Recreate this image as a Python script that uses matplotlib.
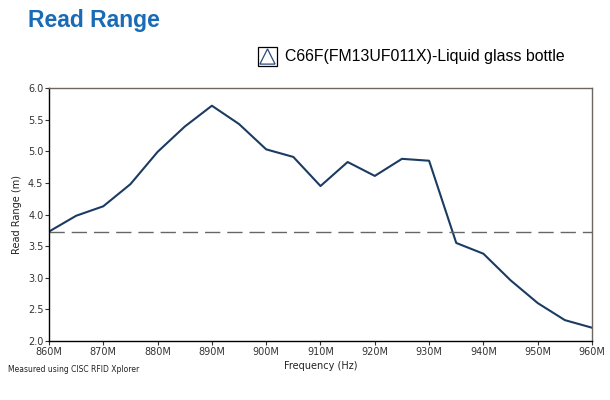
import numpy as np
import matplotlib.pyplot as plt
from matplotlib.patches import Rectangle, Polygon

# frequency points (MHz) and measured read range (m)
freq_mhz = [860, 865, 870, 875, 880, 885, 890, 895, 900, 905, 910,
            915, 920, 925, 930, 935, 940, 945, 950, 955, 960]
read_range = [3.73, 3.98, 4.13, 4.48, 4.99, 5.39, 5.72, 5.43, 5.03, 4.91, 4.45,
              4.83, 4.61, 4.88, 4.85, 3.55, 3.38, 2.96, 2.60, 2.33, 2.21]
threshold = 3.73
xticks = [860, 870, 880, 890, 900, 910, 920, 930, 940, 950, 960]
xticklabels = ['%dM' % f for f in xticks]
yticks = [2.0, 2.5, 3.0, 3.5, 4.0, 4.5, 5.0, 5.5, 6.0]
series_name = 'C66F(FM13UF011X)-Liquid glass bottle'

fig = plt.figure(figsize=(6.1, 4.0), dpi=100)
ax = fig.add_axes([0.0803, 0.1475, 0.8902, 0.6325])

line_col = '#1c3b63'
ax.plot(freq_mhz, read_range, color=line_col, lw=1.5)
ax.axhline(threshold, color='#666666', lw=1.0, ls=(0, (11, 5)))

ax.set_xlim(860, 960)
ax.set_ylim(2.0, 6.0)
ax.set_xticks(xticks)
ax.set_xticklabels(xticklabels)
ax.set_yticks(yticks)
ax.set_yticklabels(['%.1f' % v for v in yticks])
ax.tick_params(labelsize=7, colors='#333333', length=3, width=0.8, pad=1)

for s in ['left', 'bottom']:
    ax.spines[s].set_color('black')
    ax.spines[s].set_linewidth(1.0)
for s in ['top', 'right']:
    ax.spines[s].set_color('#6e6661')
    ax.spines[s].set_linewidth(1.0)

ax.set_ylabel('Read Range (m)', fontsize=7, color='#222222', labelpad=4)
ax.set_xlabel('Frequency (Hz)', fontsize=7, color='#222222', labelpad=3)

# title
fig.text(28 / 610, 1 - 21 / 400, 'Read Range', fontsize=16.5, fontweight='bold',
         family='Liberation Sans', color='#1a6bb5', va='center', ha='left')

# legend-like box with triangle
bx, by, bw, bh = 258 / 610, 1 - 66 / 400, 19 / 610, 19 / 400
fig.patches.append(Rectangle((bx, by), bw, bh, transform=fig.transFigure,
                             fill=False, ec='black', lw=0.9))
fig.patches.append(Polygon([(bx + 0.1 * bw, by + 0.1 * bh), (bx + 0.5 * bw, by + 0.9 * bh),
                            (bx + 0.9 * bw, by + 0.1 * bh)], closed=True,
                           transform=fig.transFigure, fill=False, ec='#2a4a7a', lw=0.9))
fig.text(285 / 610, 1 - 57 / 400, series_name, fontsize=11.4, family='Liberation Sans',
         color='black', va='center', ha='left')

fig.text(8 / 610, 1 - 369 / 400, 'Measured using CISC RFID Xplorer', fontsize=5.5,
         color='#222222', va='center', ha='left')

fig.savefig('out.png', dpi=100)
